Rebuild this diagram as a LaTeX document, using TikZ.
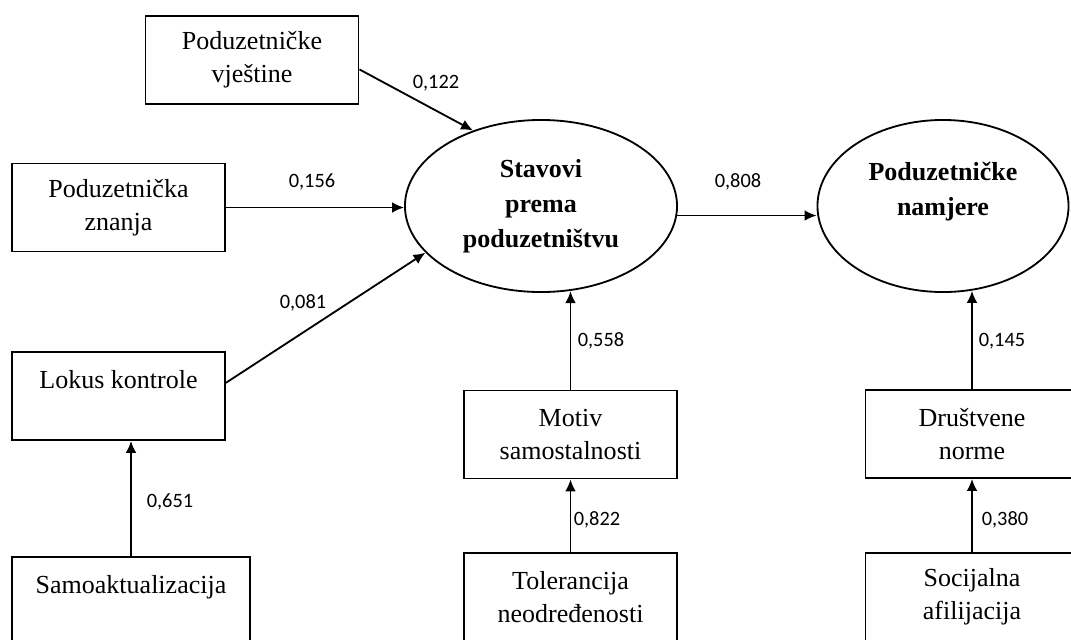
\documentclass[tikz,border=0pt]{standalone}
\usepackage{fontspec}
\setmainfont{Liberation Serif}
\newfontfamily\wtfont{Carlito}
\usetikzlibrary{positioning,shapes.geometric,arrows.meta}

\begin{document}
\begin{tikzpicture}[x=0.025cm, y=-0.025cm,
	varbox/.style={rectangle, draw, line width=1.3pt, minimum width=5.325cm,
	minimum height=2.2cm, align=center, inner sep=2pt,
	font=\fontsize{18.5}{23.5}\selectfont},
	latent/.style={ellipse, draw, line width=1.3pt, align=center, inner sep=1pt,
	minimum height=4.3cm, font=\fontsize{18.5}{25}\selectfont\bfseries},
	wt/.style={font=\wtfont\fontsize{14.5}{16}\selectfont, inner sep=0pt},
	arr/.style={-{Latex[length=3mm,width=2.7mm]}, line width=1.3pt}
	]
	\useasboundingbox (0,0) rectangle (1071,639);
	\clip (0,0) rectangle (1071,639);
	\fill[white] (0,0) rectangle (1071,639);
	
	% latent variables
	\node[latent, minimum width=6.8cm] (stavovi) at (541,206) {Stavovi\\prema\\poduzetništvu};
	\node[latent, minimum width=6.275cm] (namjere) at (943,206) {Poduzetničke\\namjere\\\mbox{}};
	
	% observed variables
	\node[varbox] (vjestine) at (252,60) {Poduzetničke\\vještine};
	\node[varbox] (znanja) at (118.5,207.5) {Poduzetnička\\znanja};
	\node[varbox] (lokus) at (118.5,396) {Lokus kontrole\\\mbox{}};
	\node[varbox, minimum width=5.95cm] (samo) at (131,601) {Samoaktualizacija\\\mbox{}};
	\node[varbox] (motiv) at (570.5,434.5) {Motiv\\samostalnosti};
	\node[varbox] (toler) at (570.5,597) {Tolerancija\\neodređenosti};
	\node[varbox] (drustv) at (972,434) {Društvene\\norme};
	\node[varbox] (socij) at (972,597) {Socijalna\\afilijacija};
	
	\draw[arr] (vjestine.-5) -- (stavovi.132);
	\draw[arr] (znanja.east) -- (znanja.east -| stavovi.west);
	\draw[arr] (lokus.7.5) -- (stavovi.202);
	\draw[arr] (stavovi.-4) -- (stavovi.-4 -| namjere.west);
	\draw[arr] (samo.north) -- (samo.north |- lokus.south);
	\draw[arr] (toler.north) -- (motiv.south);
	\draw[arr] (motiv.north) -- (motiv.north |- stavovi.-72);
	\draw[arr] (socij.north) -- (drustv.south);
	\draw[arr] (drustv.north) -- (drustv.north |- namjere.-72);
	
	% path weights
	\node[wt] (w122) at (436,83) {0,122};
	\node[wt] (w156) at (312,182) {0,156};
	\node[wt] (w081) at (303,303) {0,081};
	\node[wt] (w808) at (738,182) {0,808};
	\node[wt] (w558) at (601,341) {0,558};
	\node[wt] (w651) at (170,502) {0,651};
	\node[wt] (w822) at (597,520) {0,822};
	\node[wt] (w145) at (1002,341) {0,145};
	\node[wt] (w380) at (1005,520) {0,380};
\end{tikzpicture}
\end{document}
